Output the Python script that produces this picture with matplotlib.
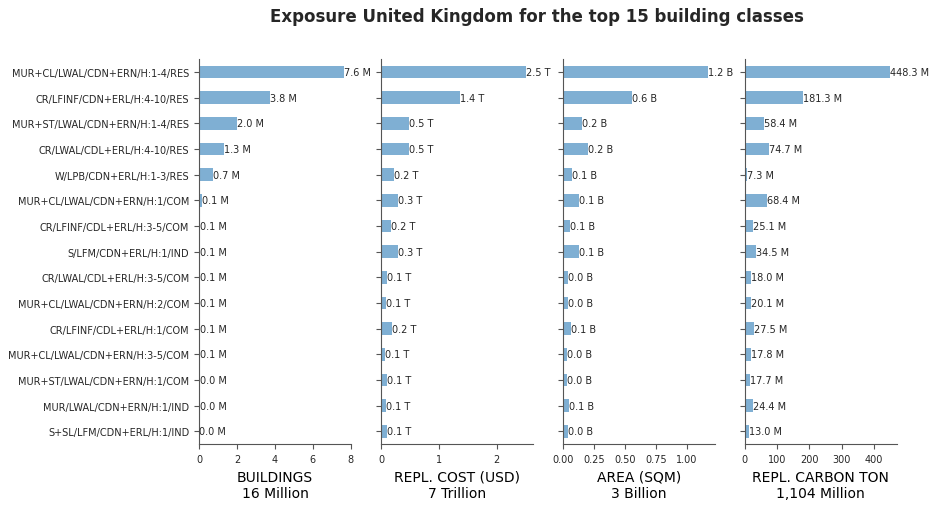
import matplotlib
matplotlib.use("Agg")
from matplotlib import pyplot as plt

classes = ['MUR+CL/LWAL/CDN+ERN/H:1-4/RES', 'CR/LFINF/CDN+ERL/H:4-10/RES',
           'MUR+ST/LWAL/CDN+ERN/H:1-4/RES', 'CR/LWAL/CDL+ERL/H:4-10/RES',
           'W/LPB/CDN+ERL/H:1-3/RES', 'MUR+CL/LWAL/CDN+ERN/H:1/COM',
           'CR/LFINF/CDL+ERL/H:3-5/COM', 'S/LFM/CDN+ERL/H:1/IND',
           'CR/LWAL/CDL+ERL/H:3-5/COM', 'MUR+CL/LWAL/CDN+ERN/H:2/COM',
           'CR/LFINF/CDL+ERL/H:1/COM', 'MUR+CL/LWAL/CDN+ERN/H:3-5/COM',
           'MUR+ST/LWAL/CDN+ERN/H:1/COM', 'MUR/LWAL/CDN+ERN/H:1/IND',
           'S+SL/LFM/CDN+ERL/H:1/IND']

buildings = [7.63, 3.76, 1.98, 1.33, 0.71, 0.14, 0.07, 0.06, 0.06, 0.06, 0.055, 0.055, 0.04, 0.03, 0.02]
repl_cost = [2.50, 1.36, 0.49, 0.49, 0.22, 0.30, 0.17, 0.30, 0.11, 0.08, 0.19, 0.07, 0.11, 0.08, 0.10]
area = [1.166, 0.558, 0.152, 0.20, 0.07, 0.127, 0.054, 0.127, 0.038, 0.038, 0.062, 0.030, 0.030, 0.052, 0.045]
carbon = [448.3, 181.3, 58.4, 74.7, 7.3, 68.4, 25.1, 34.5, 18.0, 20.1, 27.5, 17.8, 17.7, 24.4, 13.0]

panels = [
    (buildings, 'M', 'BUILDINGS\n16 Million'),
    (repl_cost, 'T', 'REPL. COST (USD)\n7 Trillion'),
    (area, 'B', 'AREA (SQM)\n3 Billion'),
    (carbon, 'M', 'REPL. CARBON TON\n1,104 Million'),
]

bar_color = '#7fafd3'
axis_color = '#555555'
text_color = '#262626'

fig, axes = plt.subplots(1, 4, figsize=(9.39, 5.1), dpi=100, sharey=True)
fig.subplots_adjust(left=0.212, right=0.955, top=0.882, bottom=0.127, wspace=0.197)

ypos = list(range(len(classes)))
for ax, (vals, unit, label) in zip(axes, panels):
    ax.barh(ypos, vals, height=0.5, color=bar_color)
    for y, v in zip(ypos, vals):
        ax.text(v, y, '%.1f %s' % (v, unit), va='center', ha='left',
                fontsize=7, color=text_color)
    ax.set_xlim(0, max(vals) * 1.05)
    ax.set_ylim(len(classes) - 0.5, -0.5)
    ax.set_xlabel(label, fontsize=10, color='black')
    ax.spines['top'].set_visible(False)
    ax.spines['right'].set_visible(False)
    ax.spines['left'].set_color(axis_color)
    ax.spines['bottom'].set_color(axis_color)
    ax.tick_params(axis='both', labelsize=7, colors=axis_color, labelcolor=text_color)

axes[0].set_yticks(ypos)
axes[0].set_yticklabels(classes)

fig.suptitle('Exposure United Kingdom for the top 15 building classes',
             x=0.572, y=0.985, fontsize=12, fontweight='bold', color=text_color)

fig.savefig('out.png', dpi=100)
